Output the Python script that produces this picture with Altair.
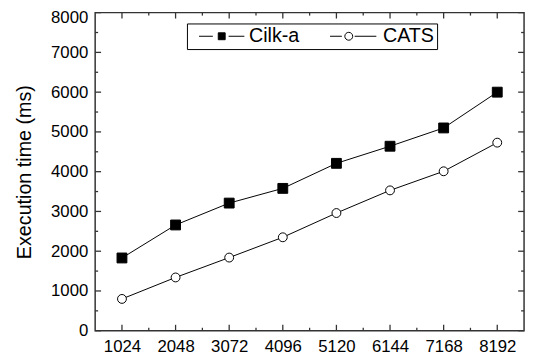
import altair as alt
import pandas as pd

# ---- data ----
sizes = [1024, 2048, 3072, 4096, 5120, 6144, 7168, 8192]
cilk_a = [1830, 2660, 3210, 3580, 4210, 4640, 5100, 6000]
cats = [800, 1340, 1840, 2350, 2960, 3530, 4010, 4730]
series_names = ["Cilk-a", "CATS"]
y_ticks = [0, 1000, 2000, 3000, 4000, 5000, 6000, 7000, 8000]

FONT = "Liberation Sans"
W, H = 435.5, 323
INK = "#333333"

df = pd.DataFrame({
    "size": sizes * 2,
    "time": cilk_a + cats,
    "series": ["Cilk-a"] * len(sizes) + ["CATS"] * len(sizes),
})

x_minor = [(a + b) / 2 for a, b in zip(sizes[:-1], sizes[1:])]
y_minor = [(a + b) / 2 for a, b in zip(y_ticks[:-1], y_ticks[1:])]

step = sizes[1] - sizes[0]
x_scale = alt.Scale(domain=[sizes[0] - step / 2, sizes[-1] + step / 2], nice=False, zero=False)
y_scale = alt.Scale(domain=[y_ticks[0], y_ticks[-1]], nice=False, zero=True)

x_axis = alt.Axis(values=sizes, format="d", ticks=False, domain=False, grid=False,
                  labelFontSize=17, labelPadding=8, labelFont=FONT, labelColor="black",
                  title=None)
y_axis = alt.Axis(values=y_ticks, format="d", ticks=False, domain=False, grid=False,
                  labelFontSize=17, labelPadding=7.5, labelFont=FONT, labelColor="black",
                  labelOffset={"condition": {"test": "datum.value == 8000", "value": 5}, "value": 0},
                  title="Execution time (ms)", titleFontSize=20, titleFont=FONT,
                  titleFontWeight="normal", titleColor="black", titlePadding=16.5)


def X(field):
    return alt.X(field, type="quantitative", scale=x_scale, axis=x_axis)


def Y(field):
    return alt.Y(field, type="quantitative", scale=y_scale, axis=y_axis)


lines = alt.Chart(df).mark_line(color="black", strokeWidth=1).encode(
    x=X("size"), y=Y("time"), detail="series:N"
)

points = alt.Chart(df).mark_point(stroke="black", strokeWidth=1, opacity=1).encode(
    x=X("size"), y=Y("time"),
    shape=alt.Shape("series:N", scale=alt.Scale(domain=series_names, range=["square", "circle"]), legend=None),
    fill=alt.Fill("series:N", scale=alt.Scale(domain=series_names, range=["black", "white"]), legend=None),
    size=alt.Size("series:N", scale=alt.Scale(domain=series_names, range=[100, 81]), legend=None),
)


def tick_layer(values, length, side):
    d = pd.DataFrame({"v": values})
    base = alt.Chart(d).mark_rule(color=INK, strokeWidth=1.3)
    if side == "left":
        return base.encode(y=Y("v"), x=alt.value(0), x2=alt.value(length))
    if side == "right":
        return base.encode(y=Y("v"), x=alt.value(W), x2=alt.value(W - length))
    if side == "bottom":
        return base.encode(x=X("v"), y=alt.value(H), y2=alt.value(H - length))
    return base.encode(x=X("v"), y=alt.value(0), y2=alt.value(length))


ticks = [
    tick_layer(y_ticks, 6, "left"), tick_layer(y_minor, 3, "left"),
    tick_layer(y_ticks, 6, "right"), tick_layer(y_minor, 3, "right"),
    tick_layer(sizes, 6, "bottom"), tick_layer(x_minor, 3, "bottom"),
    tick_layer(sizes, 6, "top"), tick_layer(x_minor, 3, "top"),
]

# legend symbols: line segment + marker + line segment
path_sq = "M-0.117,0H2.217M4.883,0H7.55M3.133,-0.583H4.3V0.583H3.133Z"
path_ci = "M-0.617,0H1.383M3.55,0H7.217M1.883,0A0.667,0.667 0 1,0 3.217,0A0.667,0.667 0 1,0 1.883,0Z"

legend = alt.Legend(title=None, orient="none", legendX=93.2, legendY=11, direction="horizontal",
                    strokeColor="black", fillColor="white", padding=3,
                    labelFontSize=20, labelFont=FONT, labelColor="black", labelLimit=0,
                    labelOffset=40, columnPadding=24, symbolSize=144,
                    symbolStrokeWidth=1, symbolStrokeColor="black")

leg_df = pd.DataFrame({"series": series_names})
legend_layer = alt.Chart(leg_df).transform_filter("false").mark_point(
    stroke="black", strokeWidth=1, opacity=1, size=144
).encode(
    shape=alt.Shape("series:N", scale=alt.Scale(domain=series_names, range=[path_sq, path_ci]), legend=legend),
    fill=alt.Fill("series:N", scale=alt.Scale(domain=series_names, range=["black", "white"]), legend=legend),
    stroke=alt.Stroke("series:N", scale=alt.Scale(domain=series_names, range=["black", "black"]), legend=legend),
)

chart = alt.layer(*ticks, lines, points, legend_layer).resolve_scale(
    shape="independent", fill="independent", stroke="independent"
).properties(
    width=W, height=H,
    autosize=alt.AutoSizeParams(type="none"),
    padding={"left": 88.5, "top": 2, "right": 4, "bottom": 26},
    background="white",
).configure_view(stroke=INK, strokeWidth=1.5)

chart.save("out.html", embed_options={"renderer": "svg", "actions": False})
